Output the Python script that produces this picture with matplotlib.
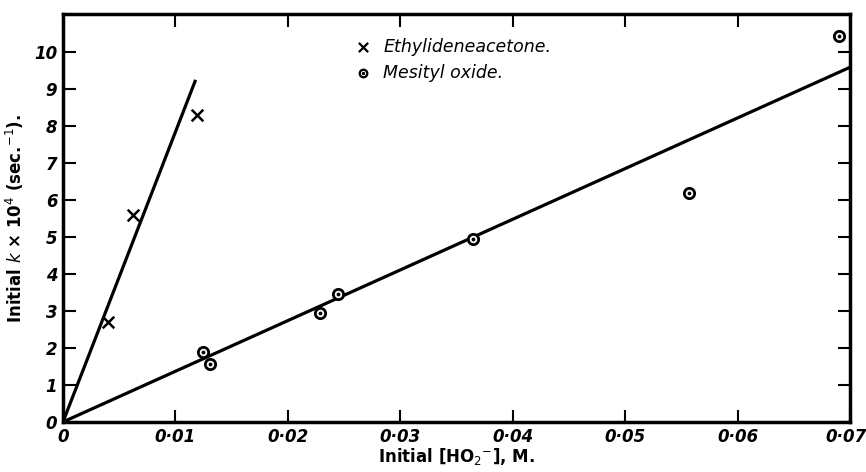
import matplotlib.pyplot as plt
import matplotlib.transforms as mtransforms
import numpy as np

# Ethylideneacetone points
eth_x = [0.0040, 0.0062, 0.0119]
eth_y = [2.7, 5.6, 8.3]
# Mesityl oxide points
mes_x = [0.01245, 0.0131, 0.0229, 0.0245, 0.0365, 0.0557, 0.0690]
mes_y = [1.89, 1.57, 2.95, 3.45, 4.95, 6.19, 10.43]
# fitted lines (end points)
eth_line_x = [0.0, 0.0118]
eth_line_y = [0.0, 9.25]
mes_line_x = [0.0, 0.07]
mes_line_y = [0.0, 9.59]

x_ticks = [0, 0.01, 0.02, 0.03, 0.04, 0.05, 0.06, 0.07]
x_labels = ["0", "0·01", "0·02", "0·03", "0·04", "0·05", "0·06", "0·07"]
y_ticks = list(range(11))

fig = plt.figure(figsize=(8.66, 4.72), dpi=100)
ax = fig.add_axes([0.0727, 0.106, 0.9088, 0.8643])

ax.plot(eth_line_x, eth_line_y, color="black", lw=2.3, solid_capstyle="butt")
ax.plot(mes_line_x, mes_line_y, color="black", lw=2.3, solid_capstyle="butt")

ax.scatter(eth_x, eth_y, marker="x", s=70, color="black", linewidths=1.8, zorder=3)
ax.scatter(mes_x, mes_y, marker="o", s=55, facecolors="white", edgecolors="black",
           linewidths=2.0, zorder=3)
ax.scatter(mes_x, mes_y, marker="o", s=3, color="black", zorder=4)

# legend written as text like the original
ax.scatter([0.0267], [10.13], marker="x", s=45, color="black", linewidths=1.6)
ax.text(0.0285, 10.13, "Ethylideneacetone.", fontsize=12.5, fontstyle="italic",
        va="center", ha="left")
ax.scatter([0.0267], [9.43], marker="o", s=30, facecolors="white",
           edgecolors="black", linewidths=1.6)
ax.scatter([0.0267], [9.43], marker="o", s=2, color="black")
ax.text(0.0285, 9.43, "Mesityl oxide.", fontsize=12.5, fontstyle="italic",
        va="center", ha="left")

ax.set_xlim(0, 0.07)
ax.set_ylim(0, 11.03)
ax.set_xticks(x_ticks)
ax.set_xticklabels(x_labels)
ax.set_yticks(y_ticks)
ax.tick_params(direction="in", length=9, width=1.5, top=True, right=True,
               labelsize=12, pad=4)
for lab in ax.get_xticklabels() + ax.get_yticklabels():
    lab.set_fontstyle("italic")
    lab.set_fontweight("bold")
for sp in ax.spines.values():
    sp.set_linewidth(2.5)

# keep the last x label inside the figure
last = ax.get_xticklabels()[-1]
last.set_transform(last.get_transform() +
                   mtransforms.ScaledTranslation(-4 / 100, 0, fig.dpi_scale_trans))

ax.set_xlabel("Initial [HO$_2$$^{-}$], M.", fontsize=12, fontweight="bold", labelpad=0)
ax.set_ylabel("Initial $k$ × 10$^4$ (sec.$^{-1}$).", fontsize=12, fontweight="bold",
              labelpad=6)

fig.savefig("out.png", dpi=100)
